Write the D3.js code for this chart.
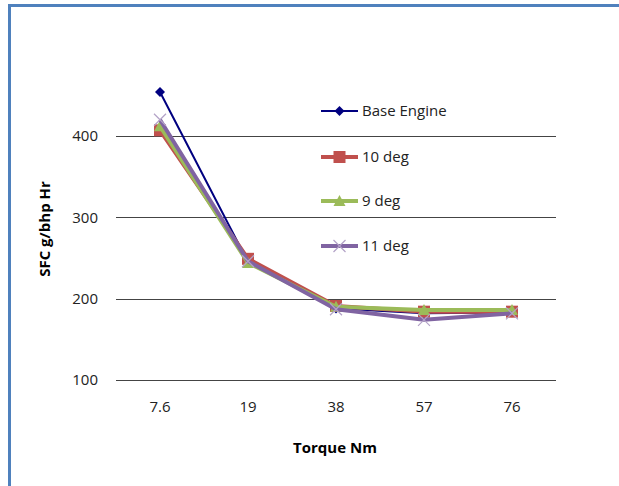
<!DOCTYPE html>
<html>
<head>
<meta charset="utf-8">
<script src="https://cdn.jsdelivr.net/npm/d3@7"></script>
<style>
  body { margin: 0; background: #fff; }
  svg { font-family: "Open Sans", sans-serif; }
</style>
</head>
<body>
<div class="main"></div>
<script>
// chart values
const torque = ["7.6", "19", "38", "57", "76"];
const baseEngine = [454, 245, 188, 182, 183];
const deg10 = [407, 249, 191, 184, 184];
const deg9 = [412, 244, 190, 186, 186];
const deg11 = [420, 246, 187, 174, 182];
const yTicks = [100, 200, 300, 400];

const series = [
    { name: "Base Engine", values: baseEngine, color: "#000080", width: 2, marker: "diamond" },
    { name: "10 deg", values: deg10, color: "#c0504d", width: 4, marker: "square" },
    { name: "9 deg", values: deg9, color: "#9bbb59", width: 4, marker: "triangle" },
    { name: "11 deg", values: deg11, color: "#8064a2", width: 4, marker: "cross" }
];

let width = 619;
let height = 486;

let svg = d3.select(".main")
    .append("svg")
    .attr("width", width)
    .attr("height", height);

// blue frame, runs off the right and bottom edges
svg.append("rect")
    .attr("x", 9.5)
    .attr("y", 5.5)
    .attr("width", 700)
    .attr("height", 600)
    .attr("fill", "none")
    .attr("stroke", "#4f81bd")
    .attr("stroke-width", 3);

let x = d3.scaleBand().domain(torque).range([116, 556]);
let y = d3.scaleLinear().domain([100, 400]).range([380, 136]);

// gridlines
svg.append("g")
    .selectAll("line")
    .data(yTicks)
    .enter().append("line")
    .attr("x1", 116)
    .attr("x2", 556)
    .attr("y1", d => Math.round(y(d)) + 0.5)
    .attr("y2", d => Math.round(y(d)) + 0.5)
    .attr("stroke", "#444")
    .attr("stroke-width", 1);

// y axis labels
let yAxis = d3.axisLeft(y).tickValues(yTicks).tickSize(0).tickPadding(0);
let yg = svg.append("g").attr("transform", "translate(98,0)").call(yAxis);
yg.select(".domain").remove();
yg.selectAll("text").attr("font-size", 15).attr("fill", "#222").attr("font-family", "Open Sans, sans-serif");

// x axis labels
let xAxis = d3.axisBottom(x).tickSize(0).tickPadding(0);
let xg = svg.append("g").attr("transform", "translate(0,401)").call(xAxis);
xg.select(".domain").remove();
xg.selectAll("text").attr("font-size", 15).attr("fill", "#222").attr("font-family", "Open Sans, sans-serif");

// axis titles
svg.append("text")
    .attr("x", 335)
    .attr("y", 453)
    .attr("text-anchor", "middle")
    .attr("font-size", 15)
    .attr("font-weight", "bold")
    .text("Torque Nm");

svg.append("text")
    .attr("transform", "translate(50,229) rotate(-90)")
    .attr("text-anchor", "middle")
    .attr("font-size", 15)
    .attr("font-weight", "bold")
    .text("SFC g/bhp Hr");

let line = d3.line()
    .x((d, i) => x(torque[i]) + x.bandwidth() / 2)
    .y(d => y(d));

function drawMarker(g, type, color, cx, cy) {
    if (type === "diamond") {
        g.append("path")
            .attr("d", `M${cx},${cy - 5}L${cx + 5},${cy}L${cx},${cy + 5}L${cx - 5},${cy}Z`)
            .attr("fill", color);
    } else if (type === "square") {
        g.append("rect")
            .attr("x", cx - 6).attr("y", cy - 6)
            .attr("width", 12).attr("height", 12)
            .attr("fill", color);
    } else if (type === "triangle") {
        g.append("path")
            .attr("d", `M${cx},${cy - 6}L${cx + 6},${cy + 5}L${cx - 6},${cy + 5}Z`)
            .attr("fill", color);
    } else {
        g.append("path")
            .attr("d", `M${cx - 6},${cy - 6}L${cx + 6},${cy + 6}M${cx + 6},${cy - 6}L${cx - 6},${cy + 6}`)
            .attr("stroke", "#b3a2c7")
            .attr("stroke-width", 1.2)
            .attr("fill", "none");
    }
}

// lines + markers
series.forEach(s => {
    let g = svg.append("g");
    g.append("path")
        .datum(s.values)
        .attr("d", line)
        .attr("fill", "none")
        .attr("stroke", s.color)
        .attr("stroke-width", s.width)
        .attr("stroke-linejoin", "round");
    s.values.forEach((v, i) => {
        drawMarker(g, s.marker, s.color, x(torque[i]) + x.bandwidth() / 2, y(v));
    });
});

// legend
let legendY = [111, 157, 201, 246];
series.forEach((s, i) => {
    let g = svg.append("g");
    let ly = legendY[i];
    g.append("line")
        .attr("x1", 321).attr("x2", 358)
        .attr("y1", ly).attr("y2", ly)
        .attr("stroke", s.color)
        .attr("stroke-width", s.width);
    drawMarker(g, s.marker, s.color, 339.5, ly);
    g.append("text")
        .attr("x", 362)
        .attr("y", ly + 5)
        .attr("font-size", 15)
        .attr("fill", "#222")
        .text(s.name);
});
</script>
</body>
</html>
